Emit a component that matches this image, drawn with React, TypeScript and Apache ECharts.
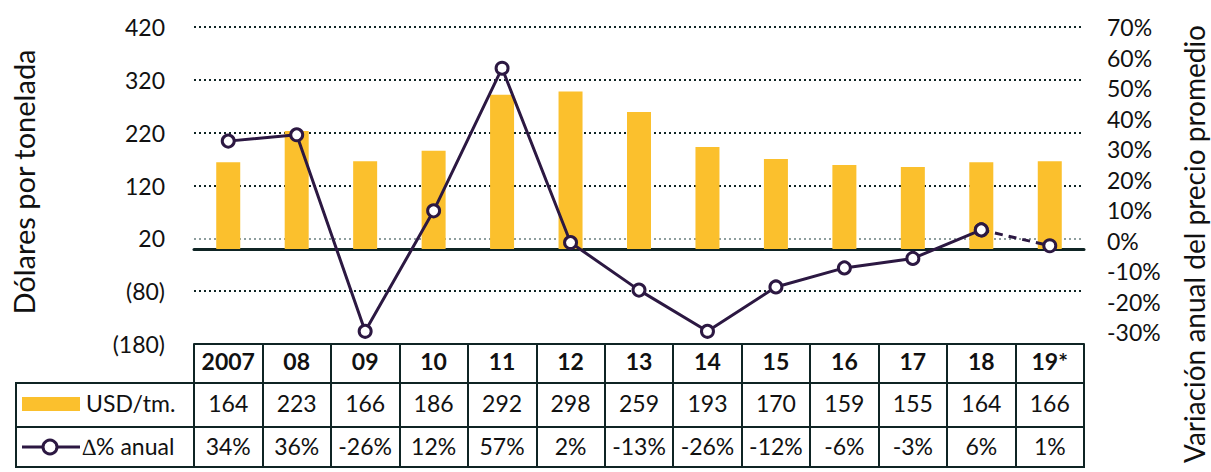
import React, { useEffect, useRef } from "react";
import * as echarts from "echarts";

// ---- data ----
const years = ["2007", "08", "09", "10", "11", "12", "13", "14", "15", "16", "17", "18", "19*"];
const usdPerTon = [164, 223, 166, 186, 292, 298, 259, 193, 170, 159, 155, 164, 166];
const annualChange = [34, 36, -26, 12, 57, 2, -13, -26, -12, -6, -3, 6, 1];
const leftAxisRange = [-180, 420];
const leftAxisStep = 100;
const rightAxisRange = [-30, 70];
const rightAxisStep = 10;
const leftTitle = "Dólares por tonelada";
const rightTitle = "Variación anual del precio promedio";
const barLegend = "USD/tm.";
const lineLegend = "∆% anual";

// ---- styles ----
const FONT = "Lato";
const TEXT = "#111111";
const DARK = "#0f2424";
const GREY = "#8e9e9e";
const BAR = "#FBC02D";
const LINE = "#2c1842";
const FS = 23;

export default function App() {
  const ref = useRef<HTMLDivElement>(null);

  useEffect(() => {
    if (!ref.current) return;
    const chart = echarts.init(ref.current, undefined, { renderer: "svg" });

    const gridL = 194;
    const gridR = 127; // right edge at 1084
    const lastSolid = annualChange.length - 2;

    const labelBase = {
      interval: 0,
      fontSize: FS,
      lineHeight: FS,
      color: TEXT,
      fontFamily: FONT,
    };

    const tableAxis = (offset: number, len: number, margin: number, extra: any) => ({
      gridIndex: 0,
      type: "category",
      data: years,
      position: "bottom",
      offset,
      axisLine: { show: true, onZero: false, lineStyle: { color: DARK, width: 2 } },
      axisTick: { show: true, interval: 0, alignWithLabel: false, length: len, lineStyle: { color: DARK, width: 2 } },
      axisLabel: { ...labelBase, margin, ...extra },
      splitLine: { show: false },
    });

    const option: any = {
      animation: false,
      textStyle: { fontFamily: FONT },
      grid: [
        { left: gridL, right: gridR, top: 27, bottom: 128 },
        { left: gridL, right: gridR, top: 27, bottom: 140 },
      ],
      xAxis: [
        {
          gridIndex: 0,
          type: "category",
          data: years,
          position: "bottom",
          axisLine: { show: true, onZero: true, lineStyle: { color: DARK, width: 3 } },
          axisTick: { show: false },
          axisLabel: { show: false },
          splitLine: { show: false },
        },
        tableAxis(0, 39, 5, { fontWeight: "bold" }),
        tableAxis(39, 44, 8, { formatter: (_v: string, i: number) => String(usdPerTon[i]) }),
        tableAxis(83, 40, 7, { formatter: (_v: string, i: number) => `${annualChange[i]}%` }),
        { gridIndex: 1, type: "category", data: years, show: false },
      ],
      yAxis: [
        {
          gridIndex: 0,
          type: "value",
          min: leftAxisRange[0],
          max: leftAxisRange[1],
          interval: leftAxisStep,
          axisLine: { show: false },
          axisTick: { show: false },
          axisLabel: {
            fontSize: FS,
            color: TEXT,
            fontFamily: FONT,
            margin: 29,
            formatter: (v: number) => (v < 0 ? `(${-v})` : `${v}`),
          },
          splitLine: {
            show: true,
            lineStyle: {
              color: [DARK, DARK, GREY, DARK, DARK, DARK, DARK],
              type: [2, 3],
              width: 2,
            },
          },
        },
        {
          gridIndex: 0,
          type: "value",
          min: rightAxisRange[0],
          max: rightAxisRange[1],
          show: false,
          splitLine: { show: false },
        },
        {
          gridIndex: 1,
          type: "value",
          position: "right",
          min: rightAxisRange[0],
          max: rightAxisRange[1],
          interval: rightAxisStep,
          axisLine: { show: false },
          axisTick: { show: false },
          splitLine: { show: false },
          axisLabel: {
            fontSize: FS,
            color: TEXT,
            fontFamily: FONT,
            margin: 23,
            formatter: (v: number) => `${v}%`,
          },
        },
      ],
      series: [
        {
          type: "bar",
          xAxisIndex: 0,
          yAxisIndex: 0,
          data: usdPerTon,
          barWidth: 24,
          itemStyle: { color: BAR },
          z: 2,
        },
        {
          type: "line",
          xAxisIndex: 0,
          yAxisIndex: 1,
          data: annualChange.map((v, i) => (i >= lastSolid ? v : null)),
          symbol: "circle",
          symbolSize: 12,
          itemStyle: { color: "#fff", borderColor: LINE, borderWidth: 3 },
          lineStyle: { color: LINE, width: 3, type: [8, 6] },
          z: 3,
        },
        {
          type: "line",
          xAxisIndex: 0,
          yAxisIndex: 1,
          data: annualChange.map((v, i) => (i <= lastSolid ? v : null)),
          symbol: "circle",
          symbolSize: 12,
          itemStyle: { color: "#fff", borderColor: LINE, borderWidth: 3 },
          lineStyle: { color: LINE, width: 3 },
          z: 4,
        },
      ],
      graphic: [
        {
          type: "text",
          x: 23,
          y: 182,
          rotation: Math.PI / 2,
          style: {
            text: leftTitle,
            fontSize: 29,
            fontFamily: FONT,
            fill: TEXT,
            align: "center",
            verticalAlign: "middle",
          },
        },
        {
          type: "text",
          x: 1194,
          y: 25,
          rotation: Math.PI / 2,
          style: {
            text: rightTitle,
            fontSize: 28,
            fontFamily: FONT,
            fill: TEXT,
            align: "right",
            verticalAlign: "middle",
          },
        },
        // legend column borders
        { type: "line", shape: { x1: 16, y1: 383, x2: 16, y2: 467 }, style: { stroke: DARK, lineWidth: 2 } },
        { type: "line", shape: { x1: 15, y1: 383, x2: 195, y2: 383 }, style: { stroke: DARK, lineWidth: 2 } },
        { type: "line", shape: { x1: 15, y1: 427, x2: 195, y2: 427 }, style: { stroke: DARK, lineWidth: 2 } },
        { type: "line", shape: { x1: 15, y1: 467, x2: 1085, y2: 467 }, style: { stroke: DARK, lineWidth: 2 } },
        // legend symbols
        { type: "rect", shape: { x: 22, y: 397, width: 58, height: 14 }, style: { fill: BAR } },
        { type: "line", shape: { x1: 22, y1: 447, x2: 80, y2: 447 }, style: { stroke: LINE, lineWidth: 3 } },
        { type: "circle", shape: { cx: 50, cy: 447, r: 7 }, style: { fill: "#fff", stroke: LINE, lineWidth: 3 } },
        {
          type: "text",
          x: 86,
          y: 403,
          style: { text: barLegend, fontSize: FS, fontFamily: FONT, fill: TEXT, align: "left", verticalAlign: "middle" },
        },
        {
          type: "text",
          x: 82,
          y: 446,
          style: { text: lineLegend, fontSize: FS, fontFamily: FONT, fill: TEXT, align: "left", verticalAlign: "middle" },
        },
      ],
    };

    chart.setOption(option);
    return () => chart.dispose();
  }, []);

  return (
    <div
      ref={ref}
      style={{ position: "absolute", left: 0, top: 0, width: 1211, height: 472, background: "#fff" }}
    />
  );
}
